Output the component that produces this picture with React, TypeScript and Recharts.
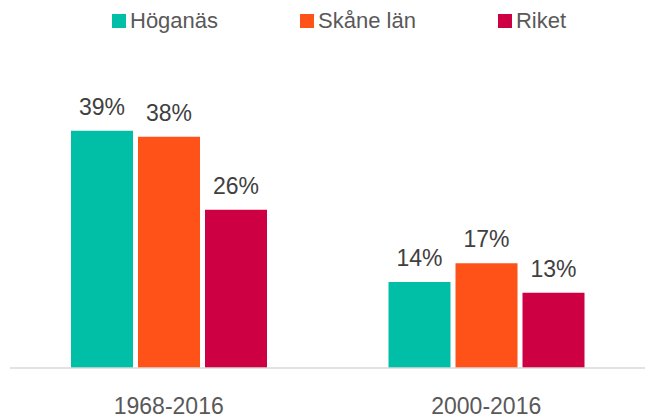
import { BarChart, Bar, XAxis, YAxis, Legend, LabelList } from "recharts";

// perioder och andelar (%)
const periods = ["1968-2016", "2000-2016"];
const hoganas = [39.4, 14.3];
const skane = [38.4, 17.4];
const riket = [26.3, 12.5];

const series = [
  { key: "hoganas", name: "Höganäs", color: "#00BFA6", values: hoganas },
  { key: "skane", name: "Skåne län", color: "#FE5218", values: skane },
  { key: "riket", name: "Riket", color: "#CC0042", values: riket },
];

const data = periods.map((period, i) => {
  const row: { [key: string]: string | number } = { period };
  series.forEach((s) => {
    row[s.key] = s.values[i];
  });
  return row;
});

const FONT = '"Liberation Sans", Arial, sans-serif';

const LegendContent = () => (
  <div
    style={{
      display: "flex",
      gap: 82,
      paddingLeft: 112,
      fontFamily: FONT,
      fontSize: 22,
      color: "#595959",
      lineHeight: "22px",
    }}
  >
    {series.map((s) => (
      <div key={s.key} style={{ display: "flex", alignItems: "center" }}>
        <span
          style={{
            display: "inline-block",
            width: 14,
            height: 14,
            background: s.color,
            marginRight: 4,
          }}
        />
        <span>{s.name}</span>
      </div>
    ))}
  </div>
);

export default function App() {
  return (
    <div style={{ position: "absolute", left: 0, top: 0 }}>
      <BarChart
        width={645}
        height={418}
        data={data}
        margin={{ top: 45, right: 0, bottom: 0, left: 10 }}
        barSize={62}
        barGap={5}
      >
        <XAxis
          dataKey="period"
          height={50}
          tickLine={false}
          tickSize={0}
          tickMargin={30}
          axisLine={{ stroke: "#D9D9D9", strokeWidth: 1.5 }}
          tick={{ fill: "#595959", fontSize: 23, fontFamily: FONT }}
        />
        <YAxis hide domain={[0, 50]} />
        <Legend
          verticalAlign="top"
          align="left"
          content={LegendContent}
          wrapperStyle={{ top: 10, left: 0, width: 645 }}
        />
        {series.map((s) => (
          <Bar
            key={s.key}
            dataKey={s.key}
            name={s.name}
            fill={s.color}
            isAnimationActive={false}
          >
            <LabelList
              dataKey={s.key}
              position="top"
              offset={16}
              formatter={(v: number) => `${Math.round(v)}%`}
              style={{ fill: "#404040", fontSize: 23, fontFamily: FONT }}
            />
          </Bar>
        ))}
      </BarChart>
    </div>
  );
}
